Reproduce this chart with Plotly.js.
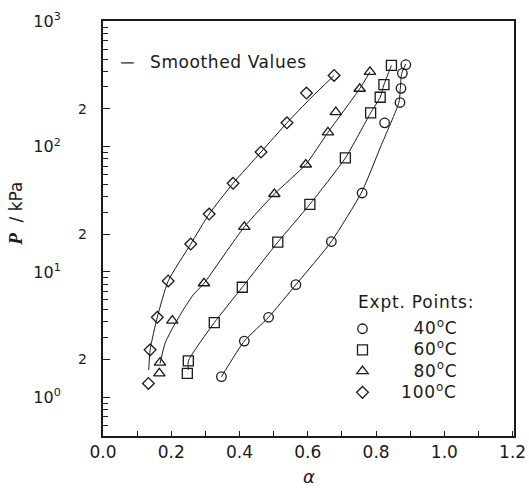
<!DOCTYPE html>
<html>
<head>
<meta charset="utf-8">
<script src="https://cdn.plot.ly/plotly-3.0.1.min.js"></script>
<style>html,body{margin:0;padding:0;background:#fff;}#chart{width:529px;height:488px;}</style>
</head>
<body>
<div id="chart"></div>
<script>
// Experimental points (alpha, P/kPa)
const x40 = [0.347, 0.414, 0.485, 0.565, 0.669, 0.759, 0.825, 0.870, 0.873, 0.877, 0.887];
const y40 = [1.46, 2.81, 4.35, 7.92, 17.5, 42.7, 155, 225, 292, 385, 451];
const x60 = [0.247, 0.250, 0.326, 0.408, 0.512, 0.606, 0.710, 0.784, 0.812, 0.823, 0.845];
const y60 = [1.55, 1.95, 3.94, 7.55, 17.3, 34.7, 81.3, 186, 248, 313, 445];
const x80 = [0.165, 0.167, 0.203, 0.296, 0.414, 0.502, 0.594, 0.659, 0.682, 0.752, 0.782];
const y80 = [1.55, 1.89, 4.09, 8.13, 22.9, 41.9, 72.1, 130, 189, 290, 395];
const x100 = [0.133, 0.138, 0.159, 0.191, 0.257, 0.311, 0.381, 0.463, 0.539, 0.596, 0.677];
const y100 = [1.29, 2.39, 4.35, 8.48, 16.7, 29.0, 51.0, 90.7, 155, 268, 370];

// Smoothed values
const sx40 = [0.347, 0.414, 0.485, 0.565, 0.669, 0.758, 0.814, 0.867, 0.871, 0.875, 0.887];
const sy40 = [1.46, 2.81, 4.35, 7.92, 17.5, 43.5, 101, 226, 292, 385, 457];
const sx60 = [0.250, 0.250, 0.326, 0.408, 0.512, 0.606, 0.710, 0.784, 0.812, 0.823, 0.845];
const sy60 = [1.65, 1.95, 3.94, 7.55, 17.3, 34.7, 81.3, 186, 248, 313, 445];
const sx80 = [0.167, 0.182, 0.206, 0.235, 0.264, 0.296, 0.414, 0.502, 0.594, 0.659, 0.752, 0.782];
const sy80 = [1.86, 2.71, 3.66, 4.98, 6.55, 8.13, 22.9, 41.9, 72.1, 130, 290, 395];
const sx100 = [0.134, 0.138, 0.159, 0.191, 0.257, 0.311, 0.381, 0.463, 0.539, 0.609, 0.677];
const sy100 = [1.65, 2.39, 4.35, 8.48, 16.7, 29.0, 51.0, 90.7, 155, 245, 370];

const seriesNames = ['40<sup>o</sup>C', '60<sup>o</sup>C', '80<sup>o</sup>C', '100<sup>o</sup>C'];
const namePad = [5, 5, 5, 3];
const symbols = ['circle-open', 'square-open', 'triangle-up-open', 'diamond-open'];
const symSizes = [9.5, 10, 10, 9];

const xTickVals = [0, 0.2, 0.4, 0.6, 0.8, 1.0, 1.2];
const xTickText = ['0.0', '0.2', '0.4', '0.6', '0.8', '1.0', '1.2'];
const yTickVals = [1, 10, 100, 1000];
const yTickText = ['10<sup>0</sup>', '10<sup>1</sup>', '10<sup>2</sup>', '10<sup>3</sup>'];
const yTwoVals = [2, 20, 200];
const yTwoText = ['2', '2', '2'];
const yMinorVals = [0.5, 0.6, 0.7, 0.8, 0.9, 3, 4, 5, 6, 7, 8, 9, 30, 40, 50, 60, 70, 80, 90, 300, 400, 500, 600, 700, 800, 900];

const FONT = 'DejaVu Sans, Verdana, sans-serif';
const INK = '#1a1a1a';
const WIDE = 'font-size:17px;letter-spacing:0.8px';

const pts = [[x40, y40], [x60, y60], [x80, y80], [x100, y100]];
const curves = [[sx40, sy40], [sx60, sy60], [sx80, sy80], [sx100, sy100]];

const traces = [];
curves.forEach(function (c) {
  traces.push({
    x: c[0], y: c[1], type: 'scatter', mode: 'lines',
    line: {color: INK, width: 1, shape: 'spline', smoothing: 0.55},
    showlegend: false, hoverinfo: 'skip'
  });
});
pts.forEach(function (p, i) {
  traces.push({
    x: p[0], y: p[1], type: 'scatter', mode: 'markers',
    name: '<span style="' + WIDE + '">' + '\u00a0'.repeat(namePad[i]) + seriesNames[i] + '</span>',
    marker: {symbol: symbols[i], size: symSizes[i], color: INK, line: {width: 1.3, color: INK}}
  });
});
traces.push({x: [], y: [], yaxis: 'y2', type: 'scatter', mode: 'markers', showlegend: false});

const yRange = [-0.309, 3.003];

const layout = {
  width: 529, height: 488,
  margin: {l: 103, r: 15, t: 21, b: 52, pad: 0},
  paper_bgcolor: '#ffffff', plot_bgcolor: '#ffffff',
  font: {family: FONT, color: INK},
  showlegend: true,
  legend: {
    x: 0.5827, y: 0.296, xanchor: 'left', yanchor: 'top',
    bgcolor: 'rgba(0,0,0,0)', borderwidth: 0,
    font: {family: FONT, size: 14, color: INK},
    tracegroupgap: 0, itemwidth: 30
  },
  xaxis: {
    range: [0, 1.204], tickvals: xTickVals, ticktext: xTickText,
    ticks: 'inside', ticklen: 5, tickwidth: 1, tickcolor: INK,
    minor: {dtick: 0.1, tick0: 0, ticks: 'inside', ticklen: 5, tickwidth: 1, tickcolor: INK, showgrid: false},
    showline: true, linewidth: 2, linecolor: INK, mirror: true,
    showgrid: false, zeroline: false,
    tickfont: {family: FONT, size: 17, color: INK}
  },
  yaxis: {
    type: 'log', range: yRange, tickvals: yTickVals, ticktext: yTickText,
    ticks: 'inside', ticklen: 7, tickwidth: 1, tickcolor: INK,
    minor: {tickvals: yMinorVals, ticks: 'inside', ticklen: 5, tickwidth: 1, tickcolor: INK, showgrid: false},
    showline: true, linewidth: 2, linecolor: INK, mirror: true,
    showgrid: false, zeroline: false,
    ticklabelstandoff: 37,
    tickfont: {family: FONT, size: 16, color: INK}
  },
  yaxis2: {
    type: 'log', range: yRange, overlaying: 'y', side: 'left', anchor: 'x',
    tickvals: yTwoVals, ticktext: yTwoText,
    ticks: 'inside', ticklen: 7, tickwidth: 1, tickcolor: INK,
    showline: false, showgrid: false, zeroline: false,
    ticklabelstandoff: 15,
    tickfont: {family: FONT, size: 14, color: INK}
  },
  shapes: [
    {type: 'line', xref: 'paper', yref: 'paper', x0: 0.044, x1: 0.075, y0: 0.899, y1: 0.899,
     line: {color: INK, width: 1.2}}
  ],
  annotations: [
    {xref: 'paper', yref: 'paper', x: 0.109, y: 0.901, xanchor: 'left', yanchor: 'middle',
     text: '<span style="letter-spacing:0.6px">Smoothed Values</span>', showarrow: false,
     font: {family: FONT, size: 17, color: INK}},
    {xref: 'paper', yref: 'paper', x: 0.6156, y: 0.322, xanchor: 'left', yanchor: 'middle',
     text: '<span style="letter-spacing:0.8px">Expt. Points:</span>', showarrow: false,
     font: {family: FONT, size: 17, color: INK}},
    {xref: 'paper', yref: 'paper', x: -0.212, y: 0.535, xanchor: 'center', yanchor: 'middle',
     textangle: -90, showarrow: false,
     text: '<span style="font-family:Liberation Serif;font-size:19px"><b><i>P</i></b></span>  / kPa',
     font: {family: FONT, size: 17, color: INK}},
    {xref: 'paper', yref: 'paper', x: 0.5, y: -0.097, xanchor: 'center', yanchor: 'middle',
     showarrow: false, text: '<i>α</i>', font: {family: 'DejaVu Sans', size: 18, color: INK}}
  ]
};

Plotly.newPlot('chart', traces, layout, {displayModeBar: false, staticPlot: true});
</script>
</body>
</html>
